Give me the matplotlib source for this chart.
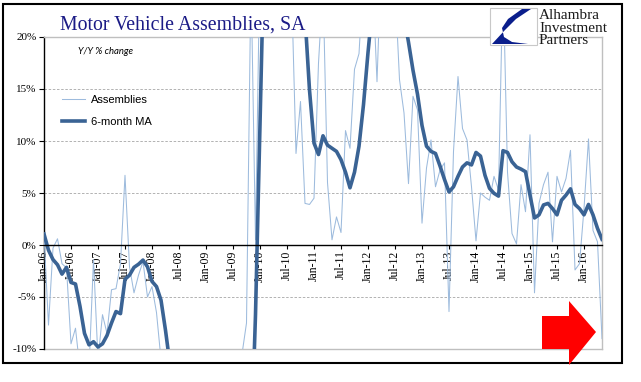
import matplotlib.pyplot as plt
from matplotlib.patches import Polygon, Rectangle

# Y/Y % change, monthly, Jan-06 .. May-16 (values past the axis limits are clipped)
assemblies = [
    1.0, -7.7, -0.3, 0.6, -1.8, -2.2, -9.5, -8.0, -12.0, -13.0,
    -12.0, -1.4, -11.0, -6.7, -8.5, -4.3, -4.2, -1.8, 6.7, -2.1,
    -4.6, -2.9, -1.6, -5.0, -4.0, -6.5, -11.0, -15.0, -18.0, -22.0,
    -25.0, -28.0, -30.0, -32.0, -33.0, -34.0, -35.0, -33.0, -30.0, -28.0,
    -25.0, -20.0, -16.0, -12.0, -10.5, -7.5, 26.0, 0.5, 28.0, 35.0,
    40.0, 45.0, 42.0, 35.0, 30.0, 25.0, 8.8, 13.8, 4.0, 3.9,
    4.5, 17.5, 25.0, 6.0, 0.5, 2.7, 1.2, 11.0, 9.3, 16.9,
    18.4, 26.0, 24.0, 26.0, 15.7, 28.0, 30.0, 28.0, 25.0, 15.9,
    12.7, 5.9, 14.3, 13.0, 2.1, 7.4, 10.1, 5.6, 7.2, 7.9,
    -6.4, 9.0, 16.2, 11.2, 10.1, 5.6, 0.4, 5.0, 4.6, 4.3,
    6.6, 5.3, 26.0, 7.0, 1.1, 0.1, 5.8, 3.2, 10.6, -4.6,
    4.0, 5.8, 7.0, 0.3, 6.6, 5.1, 6.4, 9.1, -2.4, -1.8,
    3.5, 10.2, 1.4, 0.3, -9.0,
]
ma_6m = [
    1.06, -0.5, -1.4, -1.9, -2.8, -2.15, -3.6, -3.75, -5.9, -8.5,
    -9.6, -9.3, -9.8, -9.5, -8.7, -7.5, -6.4, -6.6, -3.3, -2.9,
    -2.15, -1.85, -1.45, -2.1, -3.5, -4.0, -5.3, -8.2, -11.5, -14.0,
    -17.0, -20.0, -23.0, -26.0, -28.0, -30.0, -31.0, -32.0, -31.0, -30.0,
    -28.0, -26.0, -24.0, -22.0, -21.0, -20.5, -20.0, -6.7, 11.6, 30.0,
    35.0, 38.0, 40.0, 38.0, 35.0, 32.0, 28.0, 25.0, 22.0, 14.9,
    9.8, 8.7, 10.5, 9.6, 9.3, 9.0, 8.2, 7.0, 5.5, 7.0,
    9.5, 13.5, 18.5, 23.0, 26.0, 28.0, 28.0, 27.0, 25.0, 23.5,
    22.0, 19.5, 16.8, 14.5, 11.5, 9.5, 9.0, 8.8, 7.6, 6.3,
    5.1, 5.6, 6.6, 7.5, 7.9, 7.7, 8.9, 8.55, 6.7, 5.45,
    4.97, 4.7, 9.07, 8.9, 8.0, 7.5, 7.3, 7.05, 4.8, 2.6,
    2.9, 3.85, 4.0, 3.5, 2.9, 4.3, 4.8, 5.4, 3.9, 3.5,
    2.9, 3.9, 2.9, 1.6, 0.55,
]
tick_labels = [
    "Jan-06", "Jul-06", "Jan-07", "Jul-07", "Jan-08", "Jul-08", "Jan-09",
    "Jul-09", "Jan-10", "Jul-10", "Jan-11", "Jul-11", "Jan-12", "Jul-12",
    "Jan-13", "Jul-13", "Jan-14", "Jul-14", "Jan-15", "Jul-15", "Jan-16",
]
y_ticks = [-10, -5, 0, 5, 10, 15, 20]

W, H = 641, 382
SERIF = "Liberation Serif"


def fx(px):
    return px / W


def fy(py):
    return 1 - py / H


fig = plt.figure(figsize=(W / 100, H / 100), dpi=100)
ax = fig.add_axes([fx(44), fy(349), fx(602) - fx(44), fy(37) - fy(349)])

months = list(range(len(assemblies)))
ax.plot(months, assemblies, color="#9dbbdd", lw=0.75, zorder=3, label="Assemblies")
ax.plot(months, ma_6m, color="#3a6394", lw=2.6, zorder=4, label="6-month MA",
        solid_joinstyle="round")
ax.set_xlim(0, len(months) - 1)
ax.set_ylim(-10, 20)

# grid and frame
for v in y_ticks[1:-1]:
    if v != 0:
        ax.axhline(v, color="#a6a6a6", lw=0.6, ls=(0, (3, 2)), zorder=1)
ax.axhline(-10, color="#bfbfbf", lw=1.0, clip_on=False, zorder=1)
for side in ("top", "right"):
    ax.spines[side].set_color("#bfbfbf")
    ax.spines[side].set_linewidth(1.0)
ax.spines["left"].set_color("black")
ax.spines["left"].set_linewidth(1.0)
ax.spines["bottom"].set_position(("data", 0))
ax.spines["bottom"].set_color("black")
ax.spines["bottom"].set_linewidth(1.0)
ax.spines["bottom"].set_zorder(5)

ax.set_yticks(y_ticks)
ax.set_yticklabels([f"{v}%" for v in y_ticks], fontfamily=SERIF, fontsize=8)
ax.set_xticks(range(0, 121, 6))
ax.set_xticklabels(tick_labels, rotation=90, fontfamily=SERIF, fontsize=8.5)
ax.tick_params(axis="y", direction="out", length=3.5, width=0.8, pad=2)
ax.tick_params(axis="x", direction="out", length=3, width=0.8, pad=1)

leg = ax.legend(loc="upper left", bbox_to_anchor=(fx(62), fy(95)),
                bbox_transform=fig.transFigure, frameon=False,
                prop={"family": "Liberation Sans", "size": 8},
                handlelength=2.1, handletextpad=0.55, labelspacing=1.1,
                borderpad=0, borderaxespad=0)

# texts
fig.text(fx(60), fy(30), "Motor Vehicle Assemblies, SA", family=SERIF,
         fontsize=14.3, color="#1b1b86", va="baseline")
fig.text(fx(78), fy(52), "Y/Y % change", family="Lato", style="italic",
         fontsize=6.8, va="center")

# logo
fig.add_artist(Rectangle((fx(490), fy(45)), fx(537) - fx(490), fy(8) - fy(45),
                         transform=fig.transFigure, facecolor="white",
                         edgecolor="#c8c8c8", lw=0.8, zorder=10))
logo_pts = [(492, 44), (505, 30), (516, 19), (531, 9), (522, 9), (508, 19),
            (502, 28), (504, 37), (512, 42), (528, 44)]
fig.add_artist(Polygon([(fx(x), fy(y)) for x, y in logo_pts], closed=True,
                       transform=fig.transFigure, facecolor="#0a1e8c",
                       edgecolor="none", zorder=11))
for k, word in enumerate(["Alhambra", "Investment", "Partners"]):
    fig.text(fx(539), fy(19 + 12.5 * k), word, family=SERIF, fontsize=11,
             color="#1a1a1a", va="baseline", zorder=11)

# red arrow
arrow_pts = [(542, 316), (569, 316), (569, 301), (596, 332), (569, 365),
             (569, 349), (542, 349)]
fig.add_artist(Polygon([(fx(x), fy(y)) for x, y in arrow_pts], closed=True,
                       transform=fig.transFigure, facecolor="#ff0000",
                       edgecolor="none", zorder=12))

# outer frame
fig.add_artist(Rectangle((fx(3), fy(363)), fx(622) - fx(3), fy(4) - fy(363),
                         transform=fig.transFigure, fill=False,
                         edgecolor="black", lw=1.5, zorder=9))

fig.savefig("out.png", dpi=100)
